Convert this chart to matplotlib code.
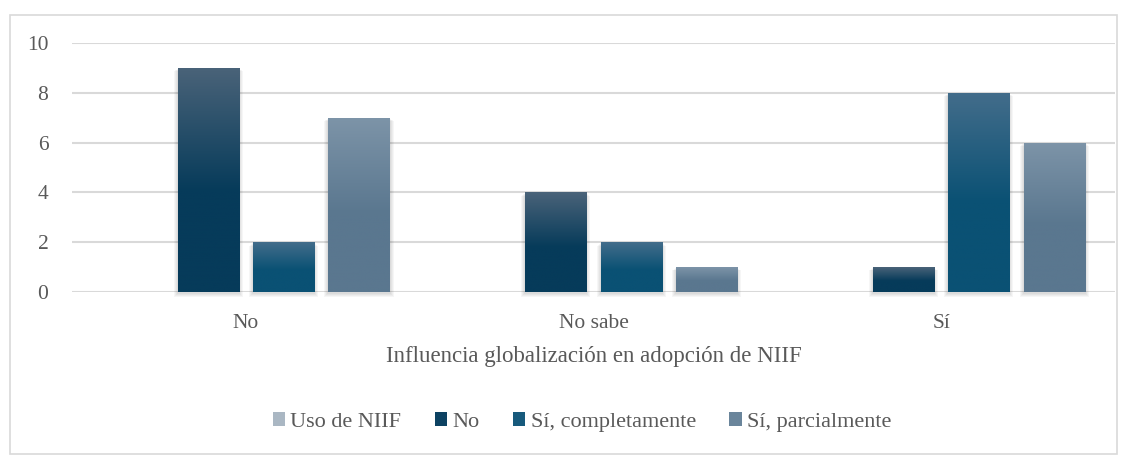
import matplotlib.pyplot as plt
import numpy as np
from matplotlib.colors import LinearSegmentedColormap
from matplotlib.patches import Rectangle, Patch

categories = ['No', 'No sabe', 'Sí']
series_names = ['Uso de NIIF', 'No', 'Sí, completamente', 'Sí, parcialmente']
uso_niif = [0, 0, 0]
resp_no = [9, 4, 1]
resp_si_comp = [2, 2, 8]
resp_si_parc = [7, 1, 6]

# top colour, bottom colour for each series
grads = [('#b8c3cd', '#98a8b6'),
         ('#4a6379', '#063b5a'),
         ('#436d8b', '#0a5174'),
         ('#7d94a8', '#5a778f')]
legend_cols = ['#aab7c3', '#0d4262', '#175a7c', '#6a859b']

plt.rcParams['font.family'] = ['Liberation Serif', 'DejaVu Serif']
txt = '#595959'

fig = plt.figure(figsize=(11.28, 4.55), dpi=100)
fig.patches.append(Rectangle((10/1128, 0.002), 1107/1128, 1 - 15/455 - 0.002,
                             transform=fig.transFigure, fill=False,
                             edgecolor='#d9d9d9', lw=1.2))
ax = fig.add_axes([72/1128, 1 - 292/455, (1115-72)/1128, (292-43)/455])

x = np.arange(len(categories))
step = 0.217
width = 0.176
data = [uso_niif, resp_no, resp_si_comp, resp_si_parc]

ax.set_xlim(-0.5, 2.5)
ax.set_ylim(0, 10)
px = 3 / 1043.0
py = 10 / 249.0

for i, vals in enumerate(data):
    cmap = LinearSegmentedColormap.from_list(
        'g%d' % i, [(0, grads[i][1]), (0.45, grads[i][1]), (1, grads[i][0])])
    bars = ax.bar(x + (i - 1.5) * step, vals, width, color='none', zorder=3)
    for b in bars:
        h = b.get_height()
        if h <= 0:
            continue
        bx, bw = b.get_x(), b.get_width()
        # soft shadow
        for k in range(1, 5):
            ax.add_patch(Rectangle((bx - k * px, -k * py - py), bw + 2 * k * px,
                                   h + py * 0.5 + k * py * 0.3,
                                   facecolor='#000000', alpha=0.035, lw=0,
                                   zorder=2, clip_on=False))
        grad = np.linspace(0, 1, 256).reshape(-1, 1)
        im = ax.imshow(grad, cmap=cmap, origin='lower', aspect='auto',
                       extent=[bx, bx + bw, 0, h], zorder=3)
        im.set_clip_path(b)

ax.set_xlim(-0.5, 2.5)
ax.set_ylim(0, 10)
ax.set_yticks([0, 2, 4, 6, 8, 10])
ax.grid(axis='y', color='#d9d9d9', lw=1.5, zorder=0)
ax.set_axisbelow(True)
for s in ['top', 'right', 'left', 'bottom']:
    ax.spines[s].set_visible(False)
ax.tick_params(axis='both', length=0, colors=txt, labelsize=15.5)
ax.tick_params(axis='y', pad=17)
ax.tick_params(axis='x', pad=16)
ax.set_xticks(x)
ax.set_xticklabels(categories)
ax.set_xlabel('Influencia globalización en adopción de NIIF', color=txt,
              fontsize=16.5, labelpad=9)

handles = [Patch(facecolor=c, edgecolor='none') for c in legend_cols]
leg = fig.legend(handles, series_names, loc='center', ncol=4,
                 bbox_to_anchor=(582/1128, 1 - 422/455), frameon=False,
                 fontsize=16, handlelength=0.55, handleheight=0.55,
                 handletextpad=0.25, columnspacing=1.5)
for t in leg.get_texts():
    t.set_color(txt)

fig.savefig('out.png', dpi=100)
